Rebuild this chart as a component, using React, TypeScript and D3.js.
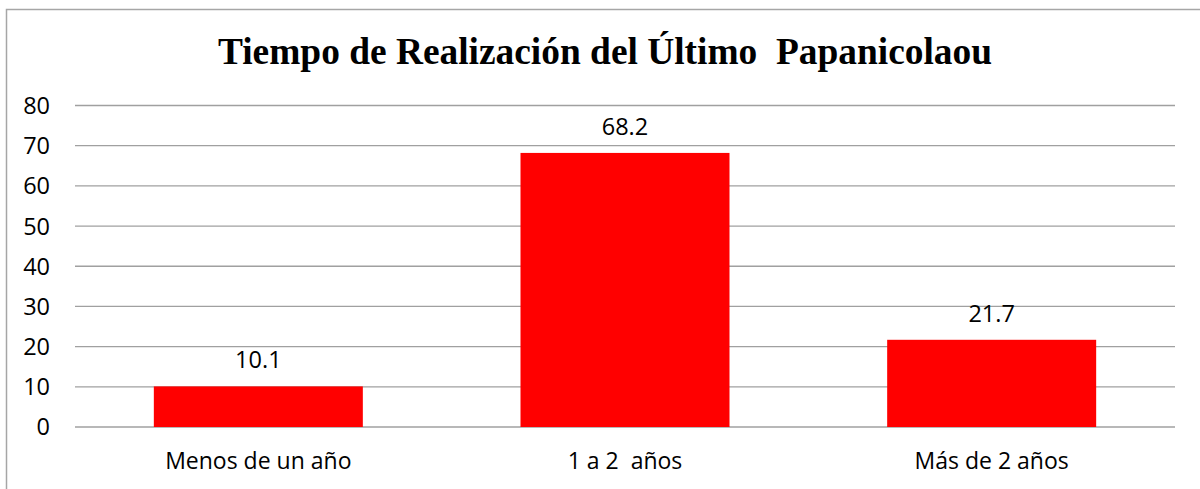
import { useEffect, useRef } from 'react';
import * as d3 from 'd3';

// Tiempo de realización del último Papanicolaou (%)
const categories = ['Menos de un año', '1 a 2  años', 'Más de 2 años'];
const values = [10.1, 68.2, 21.7];
const yTicks = [0, 10, 20, 30, 40, 50, 60, 70, 80];
const title = 'Tiempo de Realización del Último  Papanicolaou';

const COLORS = {
    bar: '#FF0000',
    grid: '#A0A0A0',
    border: '#A6A6A6',
    text: '#000000',
};

const WIDTH = 1200;
const HEIGHT = 489;
const SANS = '"Open Sans", "Noto Sans", sans-serif';

export default function App() {
    const svgRef = useRef<SVGSVGElement | null>(null);

    useEffect(() => {
        if (!svgRef.current) return;
        const svg = d3.select(svgRef.current);
        svg.selectAll('*').remove();

        const plot = { left: 75, right: 1175, top: 105.5, bottom: 427 };

        const x = d3.scaleBand<string>()
            .domain(categories)
            .range([plot.left, plot.right])
            .paddingInner(0.43)
            .paddingOuter(0.215);

        const y = d3.scaleLinear()
            .domain([0, 80])
            .range([plot.bottom, plot.top]);

        // outer chart border (runs off the right and bottom edges)
        svg.append('rect')
            .attr('x', 6.5).attr('y', 9.5)
            .attr('width', WIDTH + 20).attr('height', HEIGHT + 20)
            .attr('fill', 'none')
            .attr('stroke', COLORS.border)
            .attr('stroke-width', 1.5);

        // title
        svg.append('text')
            .attr('x', 605).attr('y', 64)
            .attr('text-anchor', 'middle')
            .style('font-family', '"Liberation Serif", "Times New Roman", serif')
            .style('font-weight', 'bold')
            .style('font-size', '37.4px')
            .style('white-space', 'pre')
            .attr('fill', COLORS.text)
            .text(title);

        // gridlines
        svg.append('g')
            .selectAll('line')
            .data(yTicks)
            .join('line')
            .attr('x1', plot.left).attr('x2', plot.right)
            .attr('y1', d => y(d)).attr('y2', d => y(d))
            .attr('stroke', COLORS.grid)
            .attr('stroke-width', 1.3);

        // y tick labels
        svg.append('g')
            .selectAll('text')
            .data(yTicks)
            .join('text')
            .attr('x', 50)
            .attr('y', d => y(d))
            .attr('dy', '0.36em')
            .attr('text-anchor', 'end')
            .style('font-family', SANS)
            .style('font-size', '23.5px')
            .attr('fill', COLORS.text)
            .text(d => d);

        // bars
        svg.append('g')
            .selectAll('rect')
            .data(values)
            .join('rect')
            .attr('x', (d, i) => x(categories[i]) ?? 0)
            .attr('y', d => y(d))
            .attr('width', x.bandwidth())
            .attr('height', d => y(0) - y(d))
            .attr('fill', COLORS.bar);

        // value labels
        svg.append('g')
            .selectAll('text')
            .data(values)
            .join('text')
            .attr('x', (d, i) => (x(categories[i]) ?? 0) + x.bandwidth() / 2)
            .attr('y', d => y(d) - 18)
            .attr('text-anchor', 'middle')
            .style('font-family', SANS)
            .style('font-size', '23.5px')
            .attr('fill', COLORS.text)
            .text(d => d.toFixed(1));

        // category labels
        svg.append('g')
            .selectAll('text')
            .data(categories)
            .join('text')
            .attr('x', d => (x(d) ?? 0) + x.bandwidth() / 2)
            .attr('y', 469)
            .attr('text-anchor', 'middle')
            .style('font-family', SANS)
            .style('font-size', '23px')
            .style('white-space', 'pre')
            .attr('fill', COLORS.text)
            .text(d => d);
    }, []);

    return (
        <svg ref={svgRef} width={WIDTH} height={HEIGHT}
            style={{ position: 'absolute', left: 0, top: 0, background: '#fff' }} />
    );
}
